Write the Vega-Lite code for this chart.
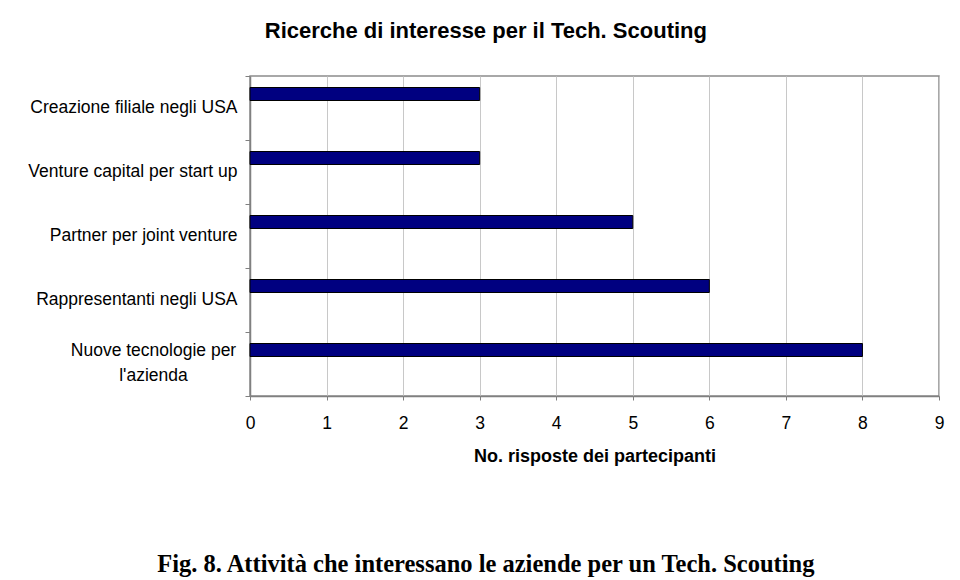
{
  "$schema": "https://vega.github.io/schema/vega-lite/v6.json",
  "padding": {"left": 27, "top": 19, "right": 20, "bottom": 2},
  "background": "white",
  "title": {
    "text": "Fig. 8. Attività che interessano le aziende per un Tech. Scouting",
    "orient": "bottom",
    "anchor": "middle",
    "frame": "bounds",
    "font": "Liberation Serif",
    "fontSize": 24.5,
    "fontWeight": "bold",
    "color": "black",
    "offset": 87
  },
  "config": {
    "view": {"stroke": "#8c8c8c", "strokeWidth": 1.5},
    "axis": {
      "labelFont": "Liberation Sans",
      "titleFont": "Liberation Sans",
      "labelColor": "black",
      "titleColor": "black",
      "domainColor": "#808080",
      "domainWidth": 1.5,
      "tickColor": "#808080",
      "gridColor": "#c8c8c8"
    }
  },
  "vconcat": [
    {
      "width": 689,
      "height": 320,
      "title": {
        "text": "Ricerche di interesse per il Tech. Scouting",
        "anchor": "middle",
        "frame": "bounds",
        "font": "Liberation Sans",
        "fontSize": 22,
        "fontWeight": "bold",
        "color": "black",
        "offset": 24
      },
      "data": {
        "values": [
          {"attivita": "Creazione filiale negli USA", "risposte": 3},
          {"attivita": "Venture capital per start up", "risposte": 3},
          {"attivita": "Partner per joint venture", "risposte": 5},
          {"attivita": "Rappresentanti negli USA", "risposte": 6},
          {"attivita": "Nuove tecnologie per l'azienda", "risposte": 8}
        ]
      },
      "mark": {"type": "bar", "color": "#000080", "stroke": "black", "strokeWidth": 1, "size": 13, "yOffset": -14},
      "encoding": {
        "y": {
          "field": "attivita",
          "type": "nominal",
          "sort": null,
          "scale": {"paddingInner": 0, "paddingOuter": 0},
          "axis": {
            "title": null,
            "tickBand": "extent",
            "tickSize": 5,
            "labelFontSize": 17.5,
            "labelLimit": 0,
            "labelLineHeight": 25,
            "labelExpr": "datum.value == \"Nuove tecnologie per l'azienda\" ? ['Nuove tecnologie per', \"l'azienda\"] : datum.label",
            "labelAlign": {"condition": {"test": "datum.value == \"Nuove tecnologie per l'azienda\"", "value": "center"}, "value": "right"},
            "labelPadding": {"condition": {"test": "datum.value == \"Nuove tecnologie per l'azienda\"", "value": 92}, "value": 8},
            "labelOffset": {"condition": {"test": "datum.value == \"Nuove tecnologie per l'azienda\"", "value": -14}, "value": -1},
            "grid": false
          }
        },
        "x": {
          "field": "risposte",
          "type": "quantitative",
          "scale": {"domain": [0, 9], "nice": false},
          "axis": {
            "title": "No. risposte dei partecipanti",
            "titleFontSize": 18,
            "titleFontWeight": "bold",
            "titlePadding": 16,
            "values": [0, 1, 2, 3, 4, 5, 6, 7, 8, 9],
            "format": "d",
            "labelFontSize": 17.5,
            "labelPadding": 14,
            "tickSize": 4,
            "grid": true,
            "labelFlush": false
          }
        }
      }
    }
  ]
}
